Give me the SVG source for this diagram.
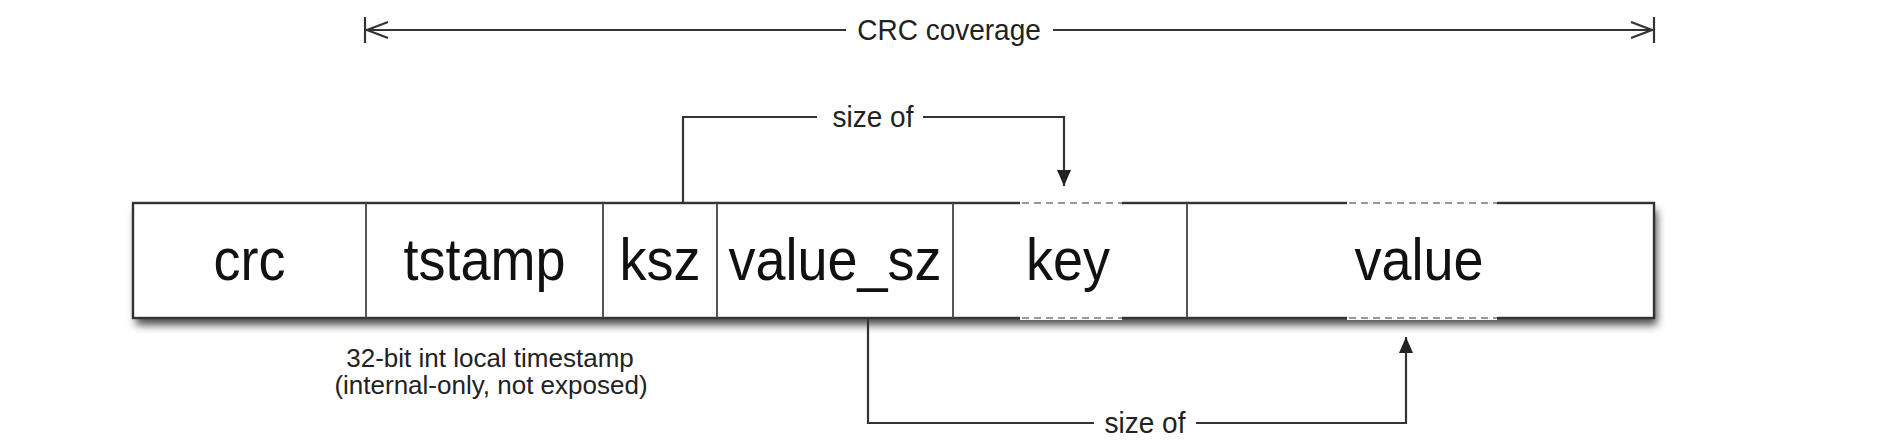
<svg xmlns="http://www.w3.org/2000/svg" width="1878" height="448" viewBox="0 0 1878 448">
  <style>
    .big { font-family: "Liberation Sans", Arial, Helvetica, sans-serif; font-size: 54px; fill: #111; text-anchor: middle; }
    .lbl { font-family: "Liberation Sans", Arial, Helvetica, sans-serif; font-size: 28px; fill: #222; text-anchor: middle; }
    .note { font-family: "Liberation Sans", Arial, Helvetica, sans-serif; font-size: 26px; fill: #222; text-anchor: middle; }
    .ln { stroke: #333; stroke-width: 2.2; fill: none; }
    .div { stroke: #444; stroke-width: 1.8; }
    .dash { stroke: #fff; stroke-width: 4; }
    .dashg { stroke: #999; stroke-width: 2; stroke-dasharray: 7 5; }
  </style>
  <defs>
    <filter id="shadow" x="-5%" y="-20%" width="110%" height="150%">
      <feDropShadow dx="3" dy="7" stdDeviation="4" flood-color="#000" flood-opacity="0.7"/>
    </filter>
    <marker id="tri" viewBox="0 0 16 14" refX="16" refY="7" markerWidth="16" markerHeight="14" markerUnits="userSpaceOnUse" orient="auto">
      <path d="M0,0 L16,7 L0,14 Z" fill="#222"/>
    </marker>
  </defs>
  <rect x="0" y="0" width="1878" height="448" fill="#fff"/>

  <!-- CRC coverage dimension line -->
  <g id="crc-coverage">
    <line class="ln" x1="365" y1="17" x2="365" y2="43"/>
    <line class="ln" x1="1654" y1="17" x2="1654" y2="43"/>
    <line class="ln" x1="366" y1="30" x2="846" y2="30"/>
    <line class="ln" x1="1053" y1="30" x2="1653" y2="30"/>
    <path class="ln" d="M388,22 L367,30 L388,38"/>
    <path class="ln" d="M1631,22 L1652,30 L1631,38"/>
    <text class="lbl" transform="translate(949,40) scale(1,1.08)">CRC coverage</text>
  </g>

  <!-- record box -->
  <g id="record">
    <rect x="133" y="203" width="1521" height="115" fill="#fff" filter="url(#shadow)"/>
    <rect x="133" y="203" width="1521" height="115" fill="#fff" stroke="#333" stroke-width="2.4"/>
    <line class="dash" x1="1020" y1="203" x2="1122" y2="203"/>
    <line class="dashg" x1="1022" y1="203" x2="1122" y2="203"/>
    <line class="dash" x1="1347" y1="203" x2="1497" y2="203"/>
    <line class="dashg" x1="1349" y1="203" x2="1497" y2="203"/>
    <line class="dash" x1="1020" y1="318" x2="1122" y2="318"/>
    <line class="dashg" x1="1022" y1="318" x2="1122" y2="318"/>
    <line class="dash" x1="1347" y1="318" x2="1497" y2="318"/>
    <line class="dashg" x1="1349" y1="318" x2="1497" y2="318"/>
  </g>
  <g id="field-crc">
    <text class="big" transform="translate(249.5,280) scale(1,1.08)">crc</text>
  </g>
  <g id="field-tstamp">
    <line class="div" x1="366" y1="203" x2="366" y2="318"/>
    <text class="big" transform="translate(484.5,280) scale(1,1.08)">tstamp</text>
  </g>
  <g id="field-ksz">
    <line class="div" x1="603" y1="203" x2="603" y2="318"/>
    <text class="big" transform="translate(660,280) scale(1,1.08)">ksz</text>
  </g>
  <g id="field-value_sz">
    <line class="div" x1="717" y1="203" x2="717" y2="318"/>
    <text class="big" transform="translate(835,280) scale(1,1.08)">value_sz</text>
  </g>
  <g id="field-key">
    <line class="div" x1="953" y1="203" x2="953" y2="318"/>
    <text class="big" transform="translate(1068,280) scale(1,1.08)">key</text>
  </g>
  <g id="field-value">
    <line class="div" x1="1187" y1="203" x2="1187" y2="318"/>
    <text class="big" transform="translate(1419,280) scale(1,1.08)">value</text>
  </g>

  <g id="tstamp-note">
    <text class="note" x="490" y="367">32-bit int local timestamp</text>
    <text class="note" x="491" y="394">(internal-only, not exposed)</text>
  </g>

  <!-- connectors -->
  <g id="connectors">
    <polyline class="ln" points="683,203 683,117 817,117"/>
    <polyline class="ln" points="923,117 1064,117 1064,186" marker-end="url(#tri)"/>
    <text class="lbl" transform="translate(873,127) scale(1,1.08)">size of</text>
    <polyline class="ln" points="868,318 868,423 1094,423"/>
    <polyline class="ln" points="1196,423 1406,423 1406,337" marker-end="url(#tri)"/>
    <text class="lbl" transform="translate(1145,433) scale(1,1.08)">size of</text>
  </g>
</svg>
